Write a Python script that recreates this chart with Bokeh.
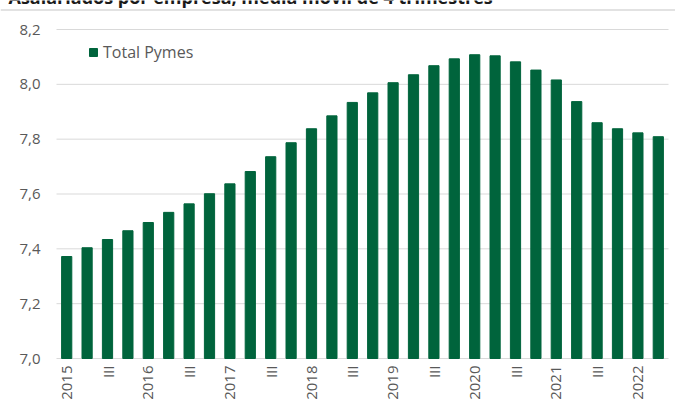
from bokeh.plotting import figure
from bokeh.models import Range1d, ColumnDataSource, Legend, LegendItem, Label, Span
from bokeh.core.properties import value
from bokeh.embed import file_html
from bokeh.resources import INLINE
import math

years = ["2015", "2016", "2017", "2018", "2019", "2020", "2021", "2022"]
quarters = ["I", "II", "III", "IV"]
periods = [f"{y} {q}" for y in years for q in quarters][:30]

total_pymes = [7.372, 7.404, 7.434, 7.466, 7.496, 7.533, 7.564, 7.601, 7.637, 7.682,
               7.736, 7.787, 7.838, 7.885, 7.934, 7.969, 8.006, 8.035, 8.068, 8.093,
               8.108, 8.104, 8.082, 8.052, 8.016, 7.937, 7.860, 7.838, 7.823, 7.809]

y_ticks = [7.0, 7.2, 7.4, 7.6, 7.8, 8.0, 8.2]
y_tick_labels = [f"{t:.1f}".replace(".", ",") for t in y_ticks]
title_text = "Asalariados por empresa, media móvil de 4 trimestres"

# positions of each period on the numeric x axis and their tick labels
xpos = list(range(1, len(periods) + 1))
x_tick_pos = []
x_tick_text = []
for i, pstr in zip(xpos, periods):
    y, q = pstr.split(" ")
    if q == "I":
        x_tick_pos.append(i)
        x_tick_text.append(y)
    elif q == "III":
        x_tick_pos.append(i)
        x_tick_text.append("III")

GREEN = "#00643C"
TXT = "#595959"
GRID = "#d9d9d9"
FONT = "Open Sans"

# plotting area: 56..668 px horizontally, 29..358 px for 8.2..7.0;
# the frame covers the whole canvas so every text can be drawn inside it
W, H = 675, 410
n = len(periods)
x_px = 612 / n
px_per_unit = 329 / 1.2
x_lo, x_hi = 0.5, n + 0.5
y_lo, y_hi = y_ticks[0], y_ticks[-1]
x_start = x_lo - 56 / x_px
x_end = x_hi + 7 / x_px
y_top = y_hi + 29 / px_per_unit
y_bottom = y_lo - (H - 358) / px_per_unit

src = ColumnDataSource(dict(x=xpos, top=total_pymes))
grid_src = ColumnDataSource(dict(x0=[x_lo] * len(y_ticks), x1=[x_hi] * len(y_ticks), y=y_ticks))
ylab_src = ColumnDataSource(dict(x=[x_lo - 16 / x_px] * len(y_ticks), y=y_ticks, t=y_tick_labels))
xlab_src = ColumnDataSource(dict(x=x_tick_pos, y=[y_lo - 7 / px_per_unit] * len(x_tick_pos),
                                 t=x_tick_text))

p = figure(width=W, height=H, x_range=Range1d(x_start, x_end),
           y_range=Range1d(y_bottom, y_top), output_backend="svg", toolbar_location=None,
           min_border=0, x_axis_type=None, y_axis_type=None)
p.outline_line_color = None
p.background_fill_color = "white"
p.border_fill_color = "white"
p.grid.visible = False

p.segment(x0="x0", x1="x1", y0="y", y1="y", source=grid_src, line_color=GRID, line_width=1)

r = p.vbar(x="x", top="top", bottom=y_lo, width=0.5, source=src,
           fill_color=GREEN, line_color=GREEN)

p.text(x="x", y="y", text="t", source=ylab_src, text_align="right", text_baseline="middle",
       text_font=value(FONT), text_font_size="15px", text_color=TXT)
p.text(x="x", y="y", text="t", source=xlab_src, angle=math.pi / 2,
       text_align="right", text_baseline="middle",
       text_font=value(FONT), text_font_size="15px", text_color=TXT)

legend = Legend(items=[LegendItem(label="Total Pymes", renderers=[r])],
                location=(88, 347), orientation="horizontal")
legend.glyph_width = 10
legend.glyph_height = 10
legend.padding = 0
legend.margin = 0
legend.spacing = 0
legend.label_standoff = 5
legend.label_text_font = FONT
legend.label_text_font_size = "16px"
legend.label_text_color = TXT
legend.border_line_color = None
legend.background_fill_alpha = 0
p.add_layout(legend, "center")

# light rule under the (cut-off) title
top_rule = Span(location=y_hi + 19.5 / px_per_unit, dimension="width",
                line_color=GRID, line_width=1.5)
p.add_layout(top_rule)

title = Label(x=x_lo - 48 / x_px, y=y_hi + 33 / px_per_unit, text=title_text,
              text_font=FONT, text_font_style="bold", text_font_size="18px",
              text_color="#1a1a1a", text_baseline="alphabetic")
p.add_layout(title)

open("out.html", "w").write(file_html(p, INLINE))
